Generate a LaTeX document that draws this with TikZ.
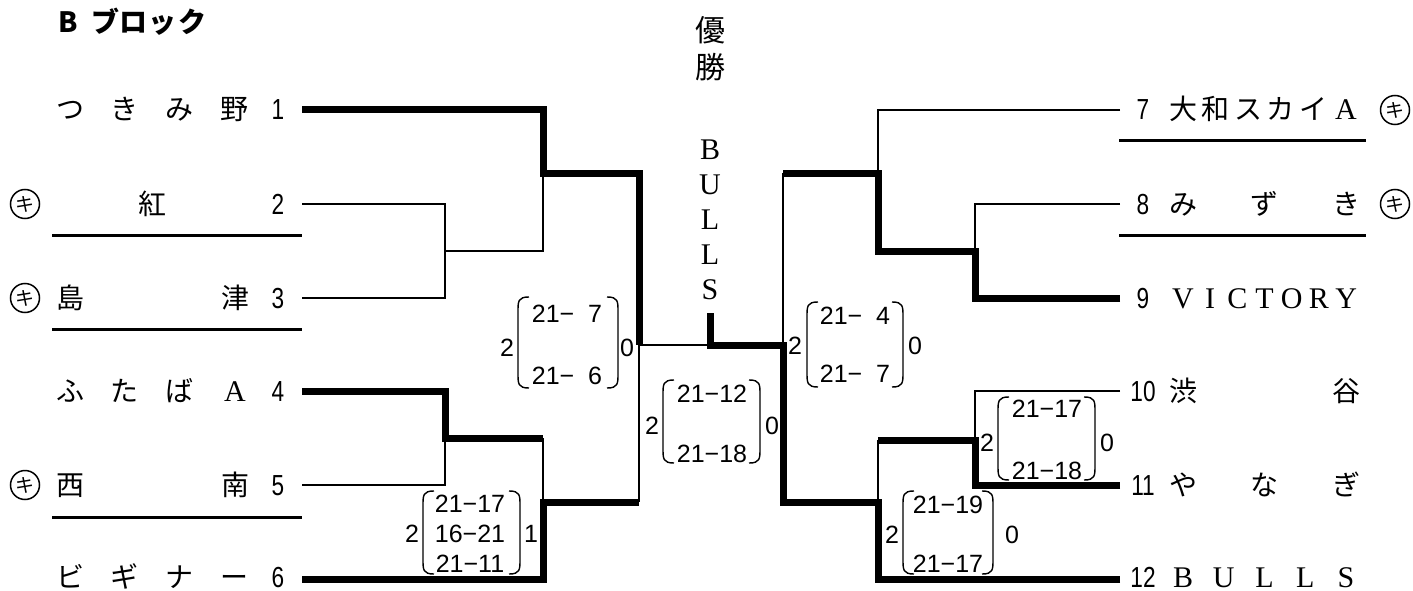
\documentclass[tikz,border=0pt]{standalone}
\usepackage{fontspec}
\newfontfamily\jp{Noto Sans CJK JP}
\newfontfamily\lat{Liberation Serif}
\newfontfamily\num[FakeStretch=0.78]{Liberation Sans}
\newfontfamily\sco{Liberation Sans}
\newcommand\cb[2]{\makebox[#1][c]{#2}}
\newcommand\la[1]{{\lat\fontsize{30}{30}\selectfont #1}}
\newcommand\parens[4]{%
  \draw[parenline] ({#1+11},#3) .. controls (#1,#3) and (#1,{#3+4}) .. (#1,{#3+15}) -- (#1,{#4-15}) .. controls (#1,{#4-4}) and (#1,#4) .. ({#1+11},#4);
  \draw[parenline] ({#2-11},#3) .. controls (#2,#3) and (#2,{#3+4}) .. (#2,{#3+15}) -- (#2,{#4-15}) .. controls (#2,{#4-4}) and (#2,#4) .. ({#2-11},#4);}
\begin{document}
\begin{tikzpicture}[x=1pt,y=-1pt,
  win/.style={line width=7pt, line join=miter},
  lose/.style={line width=2.8pt},
  uline/.style={line width=3pt},
  parenline/.style={line width=1.4pt},
  nm/.style={anchor=base, inner sep=0pt, font=\jp\fontsize{28}{28}\selectfont},
  tnum/.style={anchor=base, inner sep=0pt, font=\num\fontsize{29}{29}\selectfont},
  scr/.style={anchor=base, inner sep=0pt, font=\sco\fontsize{25}{25}\selectfont},
  ki/.style={circle, draw, line width=1.5pt, minimum size=29pt, inner sep=0pt, font=\jp\fontsize{19}{19}\selectfont}
]
\fill[white] (0,0) rectangle (1413,591);
\useasboundingbox (0,0) rectangle (1413,591);

% title
\node[nm, font=\jp\bfseries\fontsize{28}{28}\selectfont] (title) at (126,33) {\cb{38pt}{B}\cb{38pt}{ブ}\cb{18pt}{ロ}\cb{40pt}{ッ}\cb{20pt}{ク}};
% champion
\node[nm, anchor=center, align=center, font=\jp\fontsize{30}{37}\selectfont] (yusho) at (710,48.5) {優\\勝};
\node[nm, anchor=center, align=center, font=\lat\fontsize{30}{35}\selectfont] (champname) at (710,220) {B\\U\\L\\L\\S};

% team line ends
\coordinate (t1) at (302,110);
\coordinate (t2) at (302,204);
\coordinate (t3) at (302,298);
\coordinate (t4) at (302,391);
\coordinate (t5) at (302,485);
\coordinate (t6) at (302,579);
\coordinate (t7) at (1120,110);
\coordinate (t8) at (1120,204);
\coordinate (t9) at (1120,298);
\coordinate (t10) at (1120,391);
\coordinate (t11) at (1120,485);
\coordinate (t12) at (1120,579);
% junctions
\coordinate (j23) at (445,251);
\coordinate (jA) at (543,173);
\coordinate (j45) at (445,438);
\coordinate (k45) at (543,438);
\coordinate (jB) at (543,502);
\coordinate (kB) at (639,502);
\coordinate (jL) at (639,345);
\coordinate (jC) at (710,345);
\coordinate (champ) at (710,313);
\coordinate (j89) at (975,251);
\coordinate (jD) at (878,173);
\coordinate (kD) at (783,173);
\coordinate (j1011) at (975,440);
\coordinate (k1011) at (878,440);
\coordinate (jE) at (878,502);
\coordinate (kE) at (783,502);
\coordinate (jR) at (783,345);

% losers (thin)
\draw[lose] (t2) -| (j23) |- (t3);
\draw[lose] (j23) -| (jA);
\draw[lose] (jL) -- (jC);
\draw[lose] (t5) -| (j45);
\draw[lose] (k45) -- (jB);
\draw[lose] (kB) -- (jL);
\draw[lose] (t7) -| (jD);
\draw[lose] (t8) -| (j89);
\draw[lose] (kD) -- (jR);
\draw[lose] (t10) -| (j1011);
\draw[lose] (k1011) -- (jE);
% winners (thick)
\draw[win] (t1) -| (jA) -| (jL);
\draw[win] (t4) -| (j45) -- (k45);
\draw[win] (t6) -| (jB) -- (kB);
\draw[win] (t9) -| (j89) -| (jD) -- (kD);
\draw[win] (t11) -| (j1011) -- (k1011);
\draw[win] (t12) -| (jE) -- (kE) -- (jR) -- (jC) -- (champ);

% underlines
\draw[uline] (52,235) -- (302,235);
\draw[uline] (52,329) -- (302,329);
\draw[uline] (52,517) -- (302,517);
\draw[uline] (1119,141) -- (1366,141);
\draw[uline] (1119,235) -- (1366,235);

% left names
\node[nm] (n1) at (152.5,120) {\cb{55pt}{つ}\cb{55pt}{き}\cb{55pt}{み}\cb{55pt}{野}};
\node[nm] (n2) at (152.5,214) {\cb{220pt}{紅}};
\node[nm] (n3) at (152.5,308) {\cb{55pt}{島}\cb{110pt}{}\cb{55pt}{津}};
\node[nm] (n4) at (152.5,401) {\cb{55pt}{ふ}\cb{55pt}{た}\cb{55pt}{ば}\cb{55pt}{\la{A}}};
\node[nm] (n5) at (152.5,495) {\cb{55pt}{西}\cb{110pt}{}\cb{55pt}{南}};
\node[nm] (n6) at (152.5,587) {\cb{55pt}{ビ}\cb{55pt}{ギ}\cb{55pt}{ナ}\cb{55pt}{ー}};
\node[tnum] (m1) at (278,120) {1};
\node[tnum] (m2) at (278,214) {2};
\node[tnum] (m3) at (278,308) {3};
\node[tnum] (m4) at (278,401) {4};
\node[tnum] (m5) at (278,495) {5};
\node[tnum] (m6) at (278,587) {6};
\node[ki] (c2) at (25,204) {キ};
\node[ki] (c3) at (25,298) {キ};
\node[ki] (c5) at (25,485) {キ};

% right names
\node[tnum] (m7) at (1143,120) {7};
\node[tnum] (m8) at (1143,214) {8};
\node[tnum] (m9) at (1143,308) {9};
\node[tnum] (m10) at (1143,401) {10};
\node[tnum] (m11) at (1143,495) {11};
\node[tnum] (m12) at (1143,587) {12};
\node[nm] (n7) at (1264.5,120) {\cb{32.6pt}{大}\cb{32.6pt}{和}\cb{32.6pt}{ス}\cb{32.6pt}{カ}\cb{32.6pt}{イ}\cb{32.6pt}{\la{A}}};
\node[nm] (n8) at (1264.5,214) {\cb{81.5pt}{み}\cb{81.5pt}{ず}\cb{81.5pt}{き}};
\node[nm, font=\lat\fontsize{30}{30}\selectfont] (n9) at (1264.5,308) {\cb{27.2pt}{V}\cb{27.2pt}{I}\cb{27.2pt}{C}\cb{27.2pt}{T}\cb{27.2pt}{O}\cb{27.2pt}{R}\cb{27.2pt}{Y}};
\node[nm] (n10) at (1264.5,401) {\cb{81.5pt}{渋}\cb{81.5pt}{}\cb{81.5pt}{谷}};
\node[nm] (n11) at (1264.5,495) {\cb{81.5pt}{や}\cb{81.5pt}{な}\cb{81.5pt}{ぎ}};
\node[nm, font=\lat\fontsize{30}{30}\selectfont] (n12) at (1264.5,587) {\cb{40.75pt}{B}\cb{40.75pt}{U}\cb{40.75pt}{L}\cb{40.75pt}{L}\cb{40.75pt}{S}};
\node[ki] (c7) at (1395,110) {キ};
\node[ki] (c8) at (1395,204) {キ};

% scores: left semifinal
\parens{518}{618}{297}{388}
\node[scr] (s1a) at (567,322) {21−\phantom{1}7};
\node[scr] (s1b) at (567,384) {21−\phantom{1}6};
\node[scr] (s1l) at (507,356) {2};
\node[scr] (s1r) at (627,356) {0};
% final
\parens{663}{760}{380}{463}
\node[scr] (s2a) at (712,402) {21−12};
\node[scr] (s2b) at (712,462) {21−18};
\node[scr] (s2l) at (652,434) {2};
\node[scr] (s2r) at (772,434) {0};
% left quarter
\parens{423}{520}{491}{574}
\node[scr] (s3a) at (470,512) {21−17};
\node[scr] (s3b) at (470,542) {16−21};
\node[scr] (s3c) at (470,572) {21−11};
\node[scr] (s3l) at (412,542) {2};
\node[scr] (s3r) at (531,542) {1};
% right semifinal
\parens{807}{903}{302}{387}
\node[scr] (s4a) at (855,324) {21−\phantom{1}4};
\node[scr] (s4b) at (855,382) {21−\phantom{1}7};
\node[scr] (s4l) at (795,354) {2};
\node[scr] (s4r) at (915,354) {0};
% right 10/11
\parens{998}{1095}{397}{480}
\node[scr] (s5a) at (1047,417) {21−17};
\node[scr] (s5b) at (1047,479) {21−18};
\node[scr] (s5l) at (987,451) {2};
\node[scr] (s5r) at (1107,451) {0};
% right 11/12
\parens{903}{993}{491}{574}
\node[scr] (s6a) at (948,513) {21−19};
\node[scr] (s6b) at (948,572) {21−17};
\node[scr] (s6l) at (892,543) {2};
\node[scr] (s6r) at (1012,543) {0};
\end{tikzpicture}
\end{document}
